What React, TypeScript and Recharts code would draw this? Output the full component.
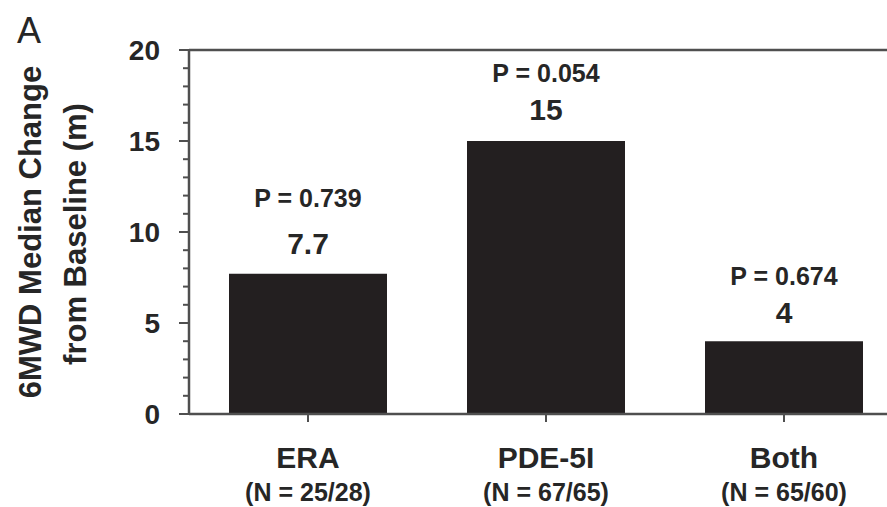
import { BarChart, Bar, XAxis, YAxis, LabelList, Label, ReferenceLine } from 'recharts';

const categories = ['ERA', 'PDE-5I', 'Both'];
const sampleSizes = ['(N = 25/28)', '(N = 67/65)', '(N = 65/60)'];
const medianChange = [7.7, 15, 4];
const pValues = ['0.739', '0.054', '0.674'];
const yTicks = [0, 1, 2, 3, 4, 5, 6, 7, 8, 9, 10, 11, 12, 13, 14, 15, 16, 17, 18, 19, 20];

const data = categories.map((name, i) => ({
  name,
  value: medianChange[i],
  n: sampleSizes[i],
  p: pValues[i],
}));

const FONT = '"Liberation Sans", Arial, Helvetica, sans-serif';
const INK = '#262626';
const AXIS = '#4f4f4f';
const BAR = '#231f20';

// plot frame (px inside the svg)
const AXIS_X = 189;
const AXIS_Y = 414;

// distance from bar top to the centre of the value / P label
const valueGap = [30, 32, 29];
const pGap = [76, 68, 65];

function YTick(props: any) {
  const { y, payload } = props;
  const v = payload.value;
  const major = v % 5 === 0;
  return (
    <g>
      <line x1={AXIS_X - (major ? 10 : 6)} x2={AXIS_X} y1={y} y2={y} stroke={AXIS} strokeWidth={2} />
      {major && (
        <text
          x={AXIS_X - 29}
          y={y}
          textAnchor="end"
          dominantBaseline="central"
          fontFamily={FONT}
          fontWeight="bold"
          fontSize={28}
          fill={INK}
        >
          {v}
        </text>
      )}
    </g>
  );
}

function XTick(props: any) {
  const { x, payload, index } = props;
  return (
    <g>
      <line x1={x} x2={x} y1={AXIS_Y} y2={AXIS_Y + 8} stroke={AXIS} strokeWidth={2} />
      <text x={x} y={457} textAnchor="middle" dominantBaseline="central" fontFamily={FONT} fontWeight="bold" fontSize={30} fill={INK}>
        {payload.value}
      </text>
      <text x={x} y={492} textAnchor="middle" dominantBaseline="central" fontFamily={FONT} fontWeight="bold" fontSize={25} fill={INK}>
        {sampleSizes[index]}
      </text>
    </g>
  );
}

function BarLabels(props: any) {
  const { x, y, width, index } = props;
  const cx = x + width / 2;
  return (
    <g fontFamily={FONT} fontWeight="bold" fill={INK} textAnchor="middle">
      <text x={cx} y={y - pGap[index]} dominantBaseline="central" fontSize={25}>
        {`P = ${pValues[index]}`}
      </text>
      <text x={cx} y={y - valueGap[index]} dominantBaseline="central" fontSize={30}>
        {medianChange[index]}
      </text>
    </g>
  );
}

function AxisTitle() {
  return (
    <g fontFamily={FONT} fill={INK}>
      <text x={17} y={30} fontSize={36} dominantBaseline="central">
        A
      </text>
      <g fontWeight="bold" fontSize={31} textAnchor="middle">
        <text x={30} y={232} dominantBaseline="central" transform="rotate(-90 30 232)">
          6MWD Median Change
        </text>
        <text x={75} y={234} dominantBaseline="central" transform="rotate(-90 75 234)">
          from Baseline (m)
        </text>
      </g>
    </g>
  );
}

export default function App() {
  return (
    <div style={{ position: 'absolute', left: 0, top: 0, width: 887, height: 507, overflow: 'hidden', background: '#fff' }}>
      <BarChart
        width={920}
        height={507}
        data={data}
        margin={{ top: 50, right: 17, bottom: 0, left: 0 }}
        barCategoryGap={40}
      >
        <ReferenceLine y={20} stroke={AXIS} strokeWidth={2.5} />
        <XAxis
          dataKey="name"
          height={93}
          interval={0}
          tickLine={false}
          axisLine={{ stroke: AXIS, strokeWidth: 2.5 }}
          tick={(p: any) => <XTick {...p} />}
        />
        <YAxis
          width={189}
          domain={[0, 20]}
          ticks={yTicks}
          interval={0}
          tickLine={false}
          axisLine={{ stroke: AXIS, strokeWidth: 2.5 }}
          tick={(p: any) => <YTick {...p} />}
        >
          <Label content={() => <AxisTitle />} />
        </YAxis>
        <Bar dataKey="value" fill={BAR} isAnimationActive={false}>
          <LabelList dataKey="value" content={(p: any) => <BarLabels {...p} />} />
        </Bar>
      </BarChart>
    </div>
  );
}
